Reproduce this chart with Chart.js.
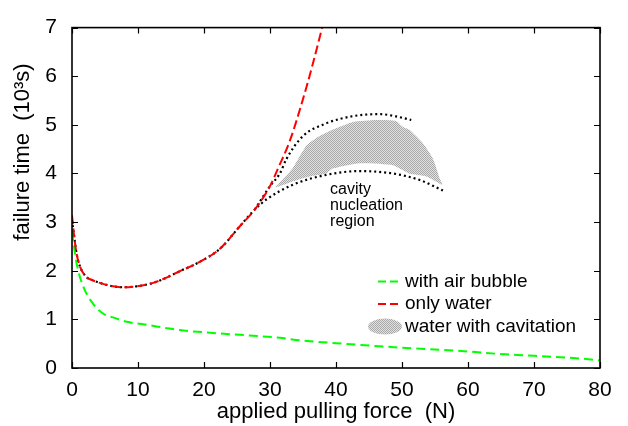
<!DOCTYPE html>
<html>
<head>
<meta charset="utf-8">
<script src="https://cdn.jsdelivr.net/npm/chart.js@4.4.1/dist/chart.umd.min.js"></script>
<style>
  html, body { margin: 0; padding: 0; background: #fff; }
</style>
</head>
<body>
<canvas id="chart" width="628" height="426"></canvas>
<script>
// ── Data ─────────────────────────────────────────────────────────

// only water (measured)
const waterX = [0, 0.3, 0.7, 1.2, 2.2, 3.2, 4.7, 6.2, 7.8, 9.8, 12.3, 14.8, 16.3, 18.9, 22.4, 25.4, 27.7, 30.0, 31.2, 33.0, 35.0, 36.5, 37.9];
const waterY = [3.14, 2.74, 2.35, 2.09, 1.87, 1.80, 1.73, 1.68, 1.66, 1.68, 1.75, 1.89, 1.99, 2.15, 2.45, 2.91, 3.26, 3.74, 4.10, 4.67, 5.53, 6.26, 7.0];

// with air bubble
const bubbleX = [0, 0.7, 1.7, 3.2, 4.7, 6.2, 8.3, 11.3, 14.3, 16.3, 21.4, 31.5, 34.5, 40, 49.6, 60, 64.7, 70, 79.6, 80];
const bubbleY = [2.8, 2.15, 1.68, 1.32, 1.12, 1.04, 0.95, 0.89, 0.82, 0.78, 0.72, 0.62, 0.57, 0.51, 0.42, 0.34, 0.29, 0.25, 0.16, 0.15];

// cavitation envelope, lower branch (follows water curve up to the fork)
const envLowX = [0, 0.3, 0.7, 1.2, 2.2, 3.2, 4.7, 6.2, 7.8, 9.8, 12.3, 14.8, 16.3, 18.9, 22.4, 25.4, 27.7, 29.5, 33.5, 38.5, 43.6, 48.6, 52.6, 56.2];
const envLowY = [3.04, 2.74, 2.35, 2.09, 1.87, 1.80, 1.73, 1.68, 1.66, 1.68, 1.75, 1.89, 1.99, 2.15, 2.45, 2.91, 3.26, 3.47, 3.77, 3.97, 4.05, 4.00, 3.87, 3.65];

// cavitation envelope, upper branch
const envUpX = [27.7, 30.0, 31.5, 32.5, 35.0, 38.5, 42.6, 46.6, 49.6, 51.4];
const envUpY = [3.26, 3.74, 4.00, 4.30, 4.77, 5.03, 5.18, 5.22, 5.16, 5.10];

// water with cavitation: outline of the measured region
const regionX = [30.7, 31.2, 33.4, 35.5, 37.5, 40.0, 42.6, 46.1, 49.1, 50.1, 51.1, 53.1, 54.7, 55.7, 56.1, 53.7, 51.1, 48.6, 43.6, 39.5, 38.5, 36.0, 33.5, 31.5, 30.7];
const regionY = [3.72, 3.77, 4.10, 4.57, 4.77, 4.93, 5.06, 5.10, 5.08, 4.96, 4.90, 4.63, 4.30, 3.90, 3.77, 3.94, 4.00, 4.17, 4.21, 4.10, 4.00, 3.94, 3.84, 3.74, 3.72];

const xTicks = [0, 10, 20, 30, 40, 50, 60, 70, 80];
const yTicks = [0, 1, 2, 3, 4, 5, 6, 7];

const noteX = 39.1;
const noteLines = ['cavity', 'nucleation', 'region'];
const noteY = [3.58, 3.25, 2.92];

const legendLabels = ['with air bubble', 'only water', 'water with cavitation'];

// ── Helpers ──────────────────────────────────────────────────────

const FONT = '"Liberation Sans", Arial, Helvetica, sans-serif';
const TICK = 6;

const toPoints = (xs, ys) => xs.map((x, i) => ({ x, y: ys[i] }));

function hatchPattern() {
    const c = document.createElement('canvas');
    c.width = 2;
    c.height = 2;
    const g = c.getContext('2d');
    g.fillStyle = '#e2e2e2';
    g.fillRect(0, 0, 2, 2);
    g.fillStyle = '#a8a8a8';
    g.fillRect(0, 0, 1, 1);
    g.fillRect(1, 1, 1, 1);
    return g.createPattern(c, 'repeat');
}

const hatch = hatchPattern();

// ── Plugins: frame with inward ticks, labels, key ────────────────

const framePlugin = {
    id: 'frame',
    afterDatasetsDraw(chart) {
        const { ctx, chartArea: a } = chart;
        const sx = chart.scales.x, sy = chart.scales.y;
        ctx.save();
        ctx.strokeStyle = '#000';
        ctx.lineWidth = 1.6;
        ctx.strokeRect(a.left, a.top, a.right - a.left, a.bottom - a.top);
        ctx.lineWidth = 1.2;
        ctx.beginPath();
        for (const v of xTicks) {
            const px = Math.round(sx.getPixelForValue(v)) + 0.5;
            ctx.moveTo(px, a.bottom); ctx.lineTo(px, a.bottom - TICK);
            ctx.moveTo(px, a.top); ctx.lineTo(px, a.top + TICK);
        }
        for (const v of yTicks) {
            const py = Math.round(sy.getPixelForValue(v)) + 0.5;
            ctx.moveTo(a.left, py); ctx.lineTo(a.left + TICK, py);
            ctx.moveTo(a.right, py); ctx.lineTo(a.right - TICK, py);
        }
        ctx.stroke();

        // region note
        ctx.fillStyle = '#000';
        ctx.font = '16px ' + FONT;
        ctx.textAlign = 'left';
        ctx.textBaseline = 'alphabetic';
        noteLines.forEach((t, i) => {
            ctx.fillText(t, sx.getPixelForValue(noteX), sy.getPixelForValue(noteY[i]));
        });

        // y axis title
        ctx.save();
        ctx.translate(23, 152);
        ctx.rotate(-Math.PI / 2);
        ctx.font = '22px ' + FONT;
        ctx.textAlign = 'center';
        ctx.textBaseline = 'middle';
        ctx.fillText('failure time  (10³s)', 0, 0);
        ctx.restore();

        // key
        const kx = a.right - 195, ky = a.top + 254, dy = 22.5;
        ctx.font = '19px ' + FONT;
        ctx.textBaseline = 'middle';
        ctx.lineWidth = 2;
        ctx.setLineDash([8, 4]);
        ctx.strokeStyle = '#00ff00';
        ctx.beginPath(); ctx.moveTo(kx - 27, ky); ctx.lineTo(kx - 7, ky); ctx.stroke();
        ctx.strokeStyle = '#ff0000';
        ctx.beginPath(); ctx.moveTo(kx - 27, ky + dy); ctx.lineTo(kx - 7, ky + dy); ctx.stroke();
        ctx.setLineDash([]);
        ctx.fillStyle = hatch;
        ctx.beginPath();
        ctx.ellipse(kx - 20, ky + 2 * dy, 17, 8, 0, 0, Math.PI * 2);
        ctx.fill();
        ctx.fillStyle = '#000';
        legendLabels.forEach((t, i) => ctx.fillText(t, kx, ky + i * dy));
        ctx.restore();
    },
};

// ── Chart ────────────────────────────────────────────────────────

const curve = {
    showLine: true,
    pointRadius: 0,
    cubicInterpolationMode: 'monotone',
};

new Chart(document.getElementById('chart'), {
    type: 'scatter',
    plugins: [framePlugin],
    data: {
        datasets: [
            {
                ...curve,
                label: 'only water',
                data: toPoints(waterX, waterY),
                borderColor: '#ff0000',
                borderWidth: 2,
                borderDash: [9, 4],
                order: 1,
            },
            {
                ...curve,
                label: 'with air bubble',
                data: toPoints(bubbleX, bubbleY),
                borderColor: '#00ff00',
                borderWidth: 2,
                borderDash: [9, 5],
                order: 2,
            },
            {
                ...curve,
                label: 'envelope low',
                data: toPoints(envLowX, envLowY),
                borderColor: '#000',
                borderWidth: 2.2,
                borderDash: [2, 3],
                order: 3,
            },
            {
                ...curve,
                label: 'envelope high',
                data: toPoints(envUpX, envUpY),
                borderColor: '#000',
                borderWidth: 2.2,
                borderDash: [2, 3],
                order: 3,
            },
            {
                label: 'water with cavitation',
                data: toPoints(regionX, regionY),
                showLine: true,
                fill: 'shape',
                backgroundColor: hatch,
                borderWidth: 0,
                borderColor: 'rgba(0,0,0,0)',
                pointRadius: 0,
                tension: 0.2,
                order: 4,
            },
        ],
    },
    options: {
        responsive: false,
        animation: false,
        events: [],
        layout: { padding: { left: 0, right: 28, top: 16, bottom: 0 } },
        plugins: {
            legend: { display: false },
            tooltip: { enabled: false },
        },
        scales: {
            x: {
                type: 'linear',
                min: 0,
                max: 80,
                afterFit: (s) => { s.height = 58; },
                grid: { display: false, drawTicks: false },
                border: { display: false },
                ticks: {
                    stepSize: 10,
                    padding: 10,
                    color: '#000',
                    font: { family: FONT, size: 21 },
                    maxRotation: 0,
                },
                title: {
                    display: true,
                    text: 'applied pulling force  (N)',
                    color: '#000',
                    font: { family: FONT, size: 22 },
                    padding: { top: 0, bottom: 1 },
                },
            },
            y: {
                type: 'linear',
                min: 0,
                max: 7,
                afterFit: (s) => { s.width = 72; },
                grid: { display: false, drawTicks: false },
                border: { display: false },
                ticks: {
                    stepSize: 1,
                    padding: 15,
                    color: '#000',
                    font: { family: FONT, size: 21 },
                },
            },
        },
    },
});
</script>
</body>
</html>
